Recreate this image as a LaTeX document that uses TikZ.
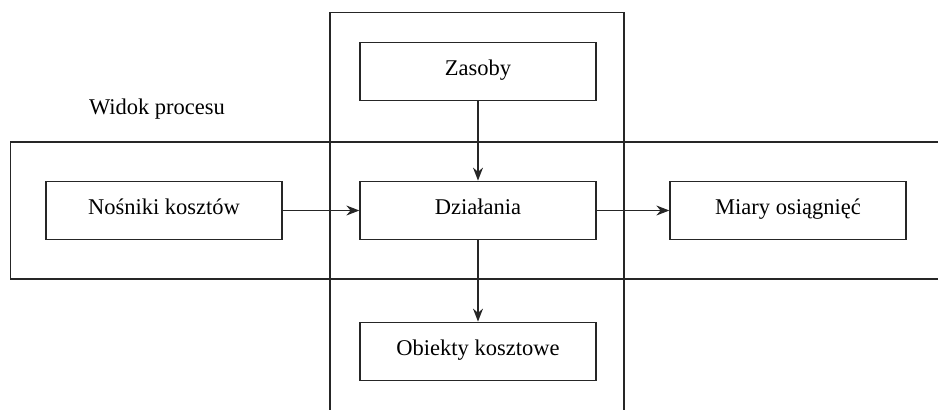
\documentclass[tikz,border=0pt]{standalone}
\usepackage{fontspec}
\setmainfont{Liberation Serif}
\usetikzlibrary{arrows.meta}
\begin{document}
\begin{tikzpicture}[x=1pt,y=-1pt,
  line width=1.3pt, draw=black!85,
  txt/.style={font=\fontsize{22.5}{26}\selectfont},
  box/.style={txt, draw=black!85, line width=1.3pt, minimum width=236pt, minimum height=58.5pt,
              inner sep=0pt, text height=0.95em, text depth=0.2em},
  flow/.style={-{Stealth[length=13pt,width=10pt]}, line width=1.3pt, draw=black!85}]
\useasboundingbox (0,0) rectangle (938,410);
% process band (open on the right) and resource band (open at the bottom)
\draw (938,142) -- (10.5,142) -- (10.5,279) -- (938,279);
\draw (330,410) -- (330,12.5) -- (624,12.5) -- (624,410);
\node[txt] (label) at (157,109) {Widok procesu};
% boxes
\node[box] (zas) at (478,71.5) {Zasoby};
\node[box] (dzi) at (478,210.5) {Działania};
\node[box] (nos) at (164,210.5) {Nośniki kosztów};
\node[box] (mia) at (788,210.5) {Miary osiągnięć};
\node[box] (obi) at (478,351.5) {Obiekty kosztowe};
% flows
\draw[flow] (zas) -- (dzi);
\draw[flow] (nos) -- (dzi);
\draw[flow] (dzi) -- (mia);
\draw[flow] (dzi) -- (obi);
\end{tikzpicture}
\end{document}
